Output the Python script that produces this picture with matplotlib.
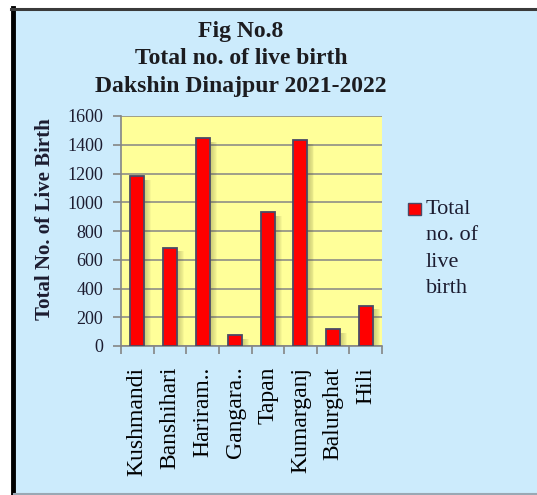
import matplotlib.pyplot as plt
from matplotlib.patches import Rectangle

# data
blocks = ["Kushmandi", "Banshihari", "Hariram..", "Gangara..", "Tapan",
          "Kumarganj", "Balurghat", "Hili"]
live_birth = [1182, 683, 1445, 74, 929, 1433, 118, 281]
y_ticks = [0, 200, 400, 600, 800, 1000, 1200, 1400, 1600]

plt.rcParams['font.family'] = ['Liberation Serif', 'DejaVu Serif']

fig = plt.figure(figsize=(5.37, 4.95), dpi=100)
fig.patch.set_facecolor('white')

# light blue chart background with dark border (left/top)
W, H = 537, 495
def fx(x): return x / W
def fy(y): return 1 - y / H
fig.add_artist(Rectangle((fx(14), fy(493)), fx(537) - fx(14), fy(9) - fy(493),
                         transform=fig.transFigure, facecolor='#CCEBFC',
                         edgecolor='none', zorder=0))
fig.add_artist(plt.Line2D([fx(13), fx(13)], [fy(8), fy(495)], color='black',
                          lw=3.5, transform=fig.transFigure))
fig.add_artist(plt.Line2D([fx(11), fx(537)], [fy(9), fy(9)], color='#3a3a3a',
                          lw=2.2, transform=fig.transFigure))
fig.add_artist(plt.Line2D([fx(14), fx(537)], [fy(493.5), fy(493.5)], color='#9aa8b4',
                          lw=1.5, transform=fig.transFigure))

ax = fig.add_axes([fx(121), fy(346), fx(382) - fx(121), fy(116) - fy(346)])
ax.set_facecolor('#FFFF99')

x = list(range(len(blocks)))
# soft shadow on the right of each bar
for k in range(7):
    ax.bar([i + 0.22 + 0.03 * k for i in x], [v - 25 for v in live_birth], width=0.06,
           bottom=0, color='#4a4a20', alpha=0.16 - 0.02 * k, edgecolor='none', zorder=2)
ax.bar(x, live_birth, width=0.43, color='#FF0000', edgecolor='#4a4a66', lw=1.3, zorder=3)

ax.set_xlim(-0.5, len(blocks) - 0.5)
ax.set_ylim(0, 1600)
ax.set_yticks(y_ticks)
ax.set_yticklabels([str(t) for t in y_ticks], fontsize=13, color='#1c1c30')
ax.yaxis.grid(True, color='#858585', lw=1.1, zorder=1)
ax.set_axisbelow(True)

ax.set_xticks([i - 0.5 for i in range(len(blocks) + 1)], minor=False)
ax.set_xticklabels([])
ax.set_xticks(x, minor=True)
ax.set_xticklabels(blocks, minor=True, rotation=90, fontsize=17, va='top')
ax.tick_params(axis='x', which='minor', length=0, pad=15)
ax.tick_params(axis='x', which='major', length=6, color='#858585', width=1.2)
ax.tick_params(axis='y', length=6, color='#858585', width=1.2, pad=7)

for s in ['top', 'right']:
    ax.spines[s].set_visible(False)
for s in ['left', 'bottom']:
    ax.spines[s].set_color('#858585')
    ax.spines[s].set_linewidth(1.2)

ax.set_ylabel("Total No. of Live Birth", fontsize=15, fontweight='bold',
              color='#1c1c30')
ax.yaxis.set_label_coords((55 - 121) / 261, 0.55)

fig.text(fx(241), fy(59), "Fig No.8\nTotal no. of live birth\nDakshin Dinajpur 2021-2022",
         ha='center', va='center', fontsize=17, fontweight='bold', linespacing=1.4,
         color='#1c1c20')

# legend
fig.add_artist(Rectangle((fx(408), fy(215)), fx(13), fy(0) - fy(12),
                         transform=fig.transFigure, facecolor='#FF0000',
                         edgecolor='#4a4a66', lw=1))
fig.text(fx(426), fy(200), "Total\nno. of\nlive\nbirth", ha='left', va='top',
         fontsize=16, linespacing=1.52, color='#1c1c30')

plt.savefig("out.png", dpi=100)
